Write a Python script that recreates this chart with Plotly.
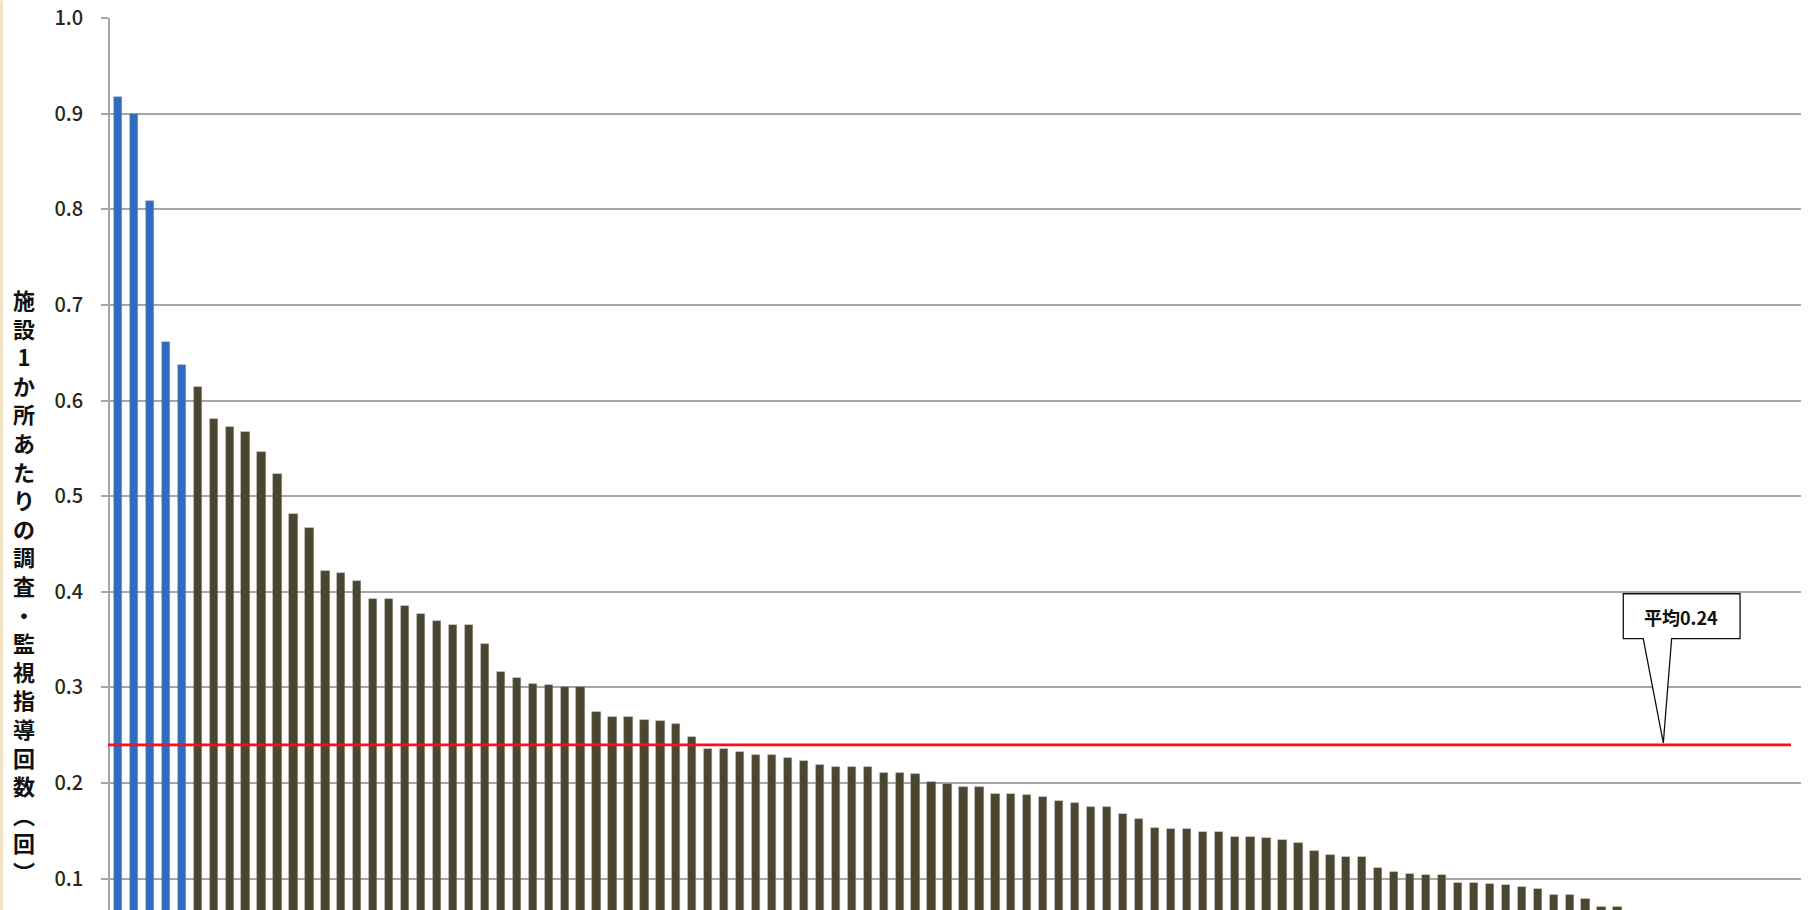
import plotly.graph_objects as go

# Inspections / supervisory guidance per facility, sorted in descending order
ranks = list(range(1, 107))
visits_per_facility = [
    0.917, 0.900, 0.809, 0.661, 0.637, 0.614, 0.581, 0.572, 0.567, 0.546,
    0.523, 0.481, 0.467, 0.422, 0.420, 0.411, 0.393, 0.393, 0.385, 0.377,
    0.369, 0.365, 0.365, 0.345, 0.316, 0.310, 0.304, 0.303, 0.301, 0.301,
    0.274, 0.269, 0.269, 0.266, 0.265, 0.262, 0.248, 0.236, 0.236, 0.232,
    0.229, 0.229, 0.226, 0.223, 0.219, 0.217, 0.217, 0.217, 0.211, 0.211,
    0.209, 0.201, 0.199, 0.196, 0.196, 0.189, 0.189, 0.188, 0.185, 0.181,
    0.179, 0.175, 0.175, 0.168, 0.162, 0.153, 0.152, 0.152, 0.149, 0.149,
    0.144, 0.144, 0.143, 0.141, 0.137, 0.129, 0.125, 0.123, 0.123, 0.111,
    0.107, 0.105, 0.104, 0.104, 0.096, 0.096, 0.095, 0.093, 0.091, 0.089,
    0.083, 0.083, 0.079, 0.070, 0.070, 0.065, 0.063, 0.060, 0.056, 0.053,
    0.048, 0.043, 0.037, 0.030, 0.022, 0.012,
]
highlight_count = 5
mean_value = 0.24

y_tick_values = [0.1, 0.2, 0.3, 0.4, 0.5, 0.6, 0.7, 0.8, 0.9, 1.0]
y_title = "施設1か所あたりの調査・監視指導回数︵回︶"

BLUE = "#2F6CBF"
OLIVE = "#4A4630"
GRID = "#A6A6A6"
FONT = "Noto Sans CJK JP"

bar_colors = [BLUE if i < highlight_count else OLIVE for i in range(len(ranks))]
x_pos = list(range(len(ranks)))

fig = go.Figure()
fig.add_trace(go.Bar(
    x=x_pos,
    y=visits_per_facility,
    width=0.52,
    marker=dict(color=bar_colors, line=dict(color="rgba(150,150,140,0.6)", width=0.6)),
    customdata=ranks,
    hovertemplate="%{customdata}: %{y:.3f}<extra></extra>",
    showlegend=False,
))

W, H = 1808, 910
ML, MR, MT, MB = 110, 7, 17.5, 0
plot_w = W - ML - MR
plot_h = H - MT - MB

shapes = [
    # average line
    dict(type="line", xref="paper", yref="y",
         x0=-2 / plot_w, x1=1 - 10 / plot_w, y0=mean_value, y1=mean_value,
         line=dict(color="#FF0A1E", width=2.6), layer="above"),
    # thin tan strip at the left page edge
    dict(type="rect", xref="paper", yref="paper",
         x0=-ML / plot_w, x1=-(ML - 3) / plot_w, y0=0, y1=1 + MT / plot_h,
         fillcolor="#F1E3C4", line=dict(width=0), layer="below"),
]

# callout box with pointer down to the average line
bx0, bx1 = 94.36, 101.68
by_top, by_bot = 0.398, 0.351
wl, wr, tip_x = 95.61, 97.39, 96.87
tip_y = mean_value + 0.002
callout_path = (
    f"M {bx0},{by_bot} L {wl},{by_bot} L {tip_x},{tip_y} L {wr},{by_bot} "
    f"L {bx1},{by_bot} L {bx1},{by_top} L {bx0},{by_top} Z"
)
shapes.append(dict(type="path", xref="x", yref="y", path=callout_path,
                   fillcolor="white", line=dict(color="#111111", width=1.3),
                   layer="above"))

annotations = [
    dict(x=97.98, y=0.3735, xref="x", yref="y", text=f"平均{mean_value}",
         showarrow=False, font=dict(family=FONT, size=18, color="#111111", weight=600),
         xanchor="center", yanchor="middle"),
    dict(x=-86 / plot_w, y=(H - 585) / plot_h, xref="paper", yref="paper",
         text="<br>".join(list(y_title)), showarrow=False,
         font=dict(family=FONT, size=22, color="#111111", weight=700),
         xanchor="center", yanchor="middle", align="center"),
]

fig.update_layout(
    width=W, height=H,
    margin=dict(l=ML, r=MR, t=MT, b=MB, pad=0),
    paper_bgcolor="white", plot_bgcolor="white",
    bargap=0,
    shapes=shapes,
    annotations=annotations,
    xaxis=dict(range=[-0.5, len(ranks) - 0.5], showticklabels=False,
               showgrid=False, zeroline=False, showline=False, ticks=""),
    yaxis=dict(range=[(974.4 - H) / 956.9, 1.0], tickvals=y_tick_values,
               tickformat=".1f", showgrid=True, gridcolor=GRID, gridwidth=1.6,
               zeroline=False, showline=True, linecolor=GRID, linewidth=1.6,
               ticks="outside", ticklen=7, tickcolor=GRID, tickwidth=1.6,
               ticklabelstandoff=14,
               tickfont=dict(family=FONT, size=20, color="#262626", weight=500)),
    font=dict(family=FONT),
)

fig.write_html("out.html")
